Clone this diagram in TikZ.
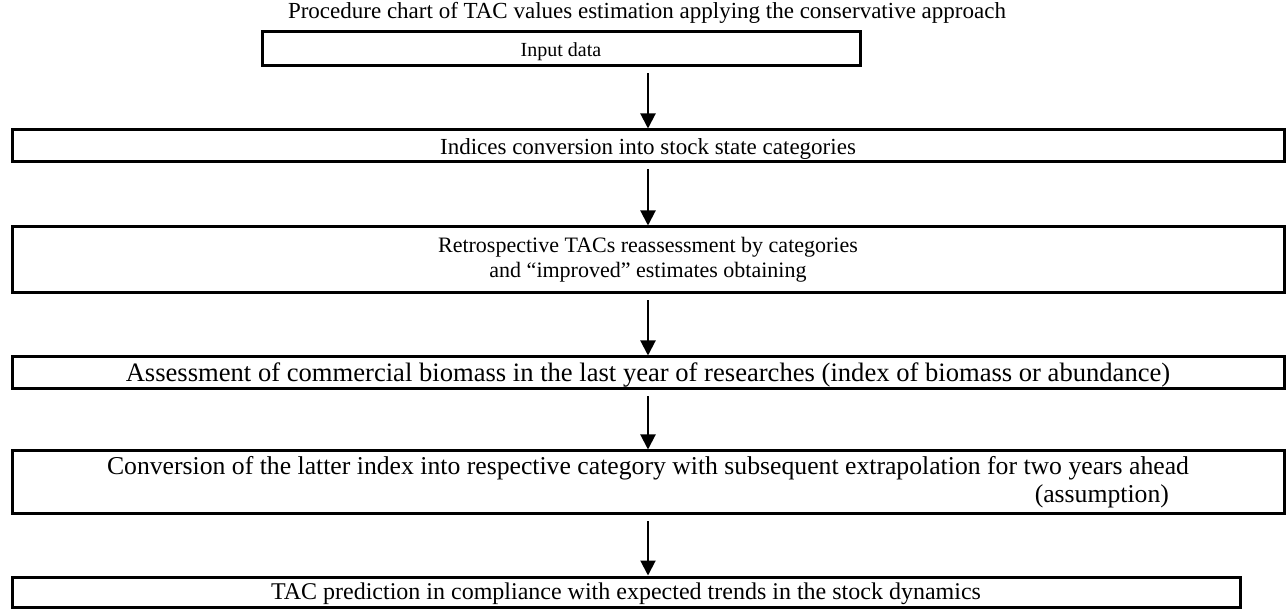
\documentclass[tikz,border=0pt]{standalone}
\usepackage{fontspec}
\setmainfont{Liberation Serif}
\usetikzlibrary{positioning, arrows.meta}

\begin{document}
\begin{tikzpicture}[x=1pt, y=-1pt,
    box/.style={draw, line width=3pt, inner sep=0pt, align=center},
    low/.style={text height=#1, text depth=0pt},
    flow/.style={-{Triangle[length=15pt, width=15pt]}, line width=2pt}
]
\useasboundingbox (0,0) rectangle (1286,609);

% Titolo
\node[font=\fontsize{23}{27}\selectfont] (title) at (647,13) {Procedure chart of TAC values estimation applying the conservative approach};

% Blocchi
\node[box, low=16pt, minimum width=598, minimum height=34, font=\fontsize{20}{23}\selectfont] (input) at (561,49) {Input data};
\node[box, low=18pt, minimum width=1272, minimum height=32, font=\fontsize{23}{26}\selectfont] (indices) at (648,146) {Indices conversion into stock state categories};
\node[box, minimum width=1272, minimum height=66, font=\fontsize{22}{25}\selectfont] (retro) at (648,260) {Retrospective TACs reassessment by categories\\and “improved” estimates obtaining};
\node[box, low=18pt, minimum width=1272, minimum height=32, font=\fontsize{26.6}{29}\selectfont] (assess) at (648,373) {Assessment of commercial biomass in the last year of researches (index of biomass or abundance)};
\node[box, minimum width=1272, minimum height=63, align=right, font=\fontsize{25.7}{28}\selectfont] (conv) at (648,482.5) {Conversion of the latter index into respective category with subsequent extrapolation for two years ahead\\\mbox{(assumption)\hspace{20pt}}};
\node[box, low=14pt, minimum width=1228, minimum height=30, font=\fontsize{24}{27}\selectfont] (pred) at (626,592) {TAC prediction in compliance with expected trends in the stock dynamics};

% Frecce
\draw[flow, shorten <=6pt] (input.south -| indices.north) -- (indices.north);
\draw[flow, shorten <=6pt] (indices.south) -- (retro.north);
\draw[flow, shorten <=6pt] (retro.south) -- (assess.north);
\draw[flow, shorten <=6pt] (assess.south) -- (conv.north);
\draw[flow, shorten <=6pt] (conv.south) -- (conv.south |- pred.north);

\end{tikzpicture}
\end{document}
